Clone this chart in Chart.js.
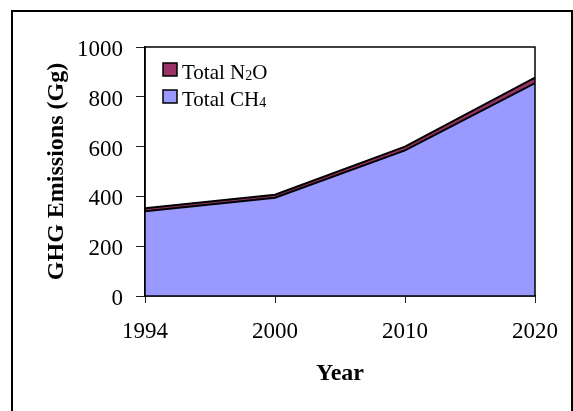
<!DOCTYPE html>
<html>
<head>
<meta charset="utf-8">
<script src="https://cdn.jsdelivr.net/npm/chart.js@4"></script>
<style>
  html, body { margin: 0; padding: 0; background: #fff; }
  #wrap { position: relative; width: 573px; height: 411px; overflow: hidden; }
  #frame { position: absolute; left: 11px; top: 10px; width: 558px; height: 430px; border: 2px solid #000; }
  canvas { position: absolute; left: 0; top: 0; }
</style>
</head>
<body>
<div id="wrap">
  <div id="frame"></div>
  <canvas id="ghgChart" width="573" height="411"></canvas>
</div>
<script>
// Data
const years = ['1994', '2000', '2010', '2020'];
const ch4Values = [340, 395, 585, 855];
const n2oValues = [12, 12, 15, 22];
const yTicks = [0, 200, 400, 600, 800, 1000];

const serif = "'Liberation Serif', 'Times New Roman', serif";
const colors = {
    ch4: '#9999ff',
    n2o: '#993366',
    line: '#000000'
};

// Legend in the top-left of the plot, drawn by hand to get the subscripts
const legendItems = [
    { base: 'Total N', sub: '2', tail: 'O', color: colors.n2o },
    { base: 'Total CH', sub: '4', tail: '', color: colors.ch4 }
];

const insideLegend = {
    id: 'insideLegend',
    afterDraw(chart) {
        const ctx = chart.ctx;
        const area = chart.chartArea;
        let y = area.top + 16;
        ctx.save();
        legendItems.forEach(item => {
            const bx = area.left + 18;
            ctx.fillStyle = item.color;
            ctx.fillRect(bx, y, 14, 13);
            ctx.lineWidth = 1.5;
            ctx.strokeStyle = '#000';
            ctx.strokeRect(bx, y, 14, 13);

            let tx = bx + 19;
            const baseY = y + 16;
            ctx.fillStyle = '#000';
            ctx.textBaseline = 'alphabetic';
            ctx.font = '21px ' + serif;
            ctx.fillText(item.base, tx, baseY);
            tx += ctx.measureText(item.base).width;
            ctx.font = '14px ' + serif;
            ctx.fillText(item.sub, tx, baseY + 1);
            tx += ctx.measureText(item.sub).width;
            ctx.font = '21px ' + serif;
            ctx.fillText(item.tail, tx, baseY);
            y += 27;
        });
        ctx.restore();
    }
};

// Box round the plot area
const plotFrame = {
    id: 'plotFrame',
    afterDraw(chart) {
        const { ctx, chartArea: a } = chart;
        ctx.save();
        ctx.strokeStyle = '#000';
        ctx.lineWidth = 1.5;
        ctx.strokeRect(a.left, a.top, a.right - a.left, a.bottom - a.top);
        ctx.restore();
    }
};

new Chart(document.getElementById('ghgChart'), {
    type: 'line',
    data: {
        labels: years,
        datasets: [
            {
                label: 'Total CH4',
                data: ch4Values,
                backgroundColor: colors.ch4,
                borderColor: colors.line,
                borderWidth: 2,
                fill: 'origin',
                pointRadius: 0,
                tension: 0
            },
            {
                label: 'Total N2O',
                data: n2oValues,
                backgroundColor: colors.n2o,
                borderColor: colors.line,
                borderWidth: 2,
                fill: '-1',
                pointRadius: 0,
                tension: 0
            }
        ]
    },
    options: {
        responsive: false,
        animation: false,
        layout: {
            padding: { left: 40, right: 37, top: 47, bottom: 20 }
        },
        plugins: {
            legend: { display: false },
            tooltip: { enabled: false }
        },
        scales: {
            x: {
                offset: false,
                grid: {
                    drawOnChartArea: false,
                    tickLength: 7,
                    color: '#222',
                    lineWidth: 1
                },
                border: { color: '#000', width: 1.5 },
                ticks: {
                    color: '#000',
                    padding: 15,
                    maxRotation: 0,
                    font: { family: serif, size: 23 }
                },
                title: {
                    display: true,
                    text: 'Year',
                    color: '#000',
                    padding: { top: 0, bottom: 3 },
                    font: { family: serif, size: 24, weight: 'bold' }
                },
                afterFit: s => { s.height = 95; }
            },
            y: {
                stacked: true,
                min: 0,
                max: 1000,
                afterBuildTicks: s => { s.ticks = yTicks.map(v => ({ value: v })); },
                grid: {
                    drawOnChartArea: false,
                    tickLength: 9,
                    color: '#222',
                    lineWidth: 1
                },
                border: { color: '#000', width: 1.5 },
                ticks: {
                    color: '#000',
                    padding: 13,
                    labelOffset: 3,
                    callback: v => String(v),
                    font: { family: serif, size: 23 }
                },
                title: {
                    display: true,
                    text: 'GHG Emissions (Gg)',
                    color: '#000',
                    padding: { top: 2, bottom: 0 },
                    font: { family: serif, size: 24, weight: 'bold' }
                },
                afterFit: s => { s.width = 105; }
            }
        }
    },
    plugins: [plotFrame, insideLegend]
});
</script>
</body>
</html>
